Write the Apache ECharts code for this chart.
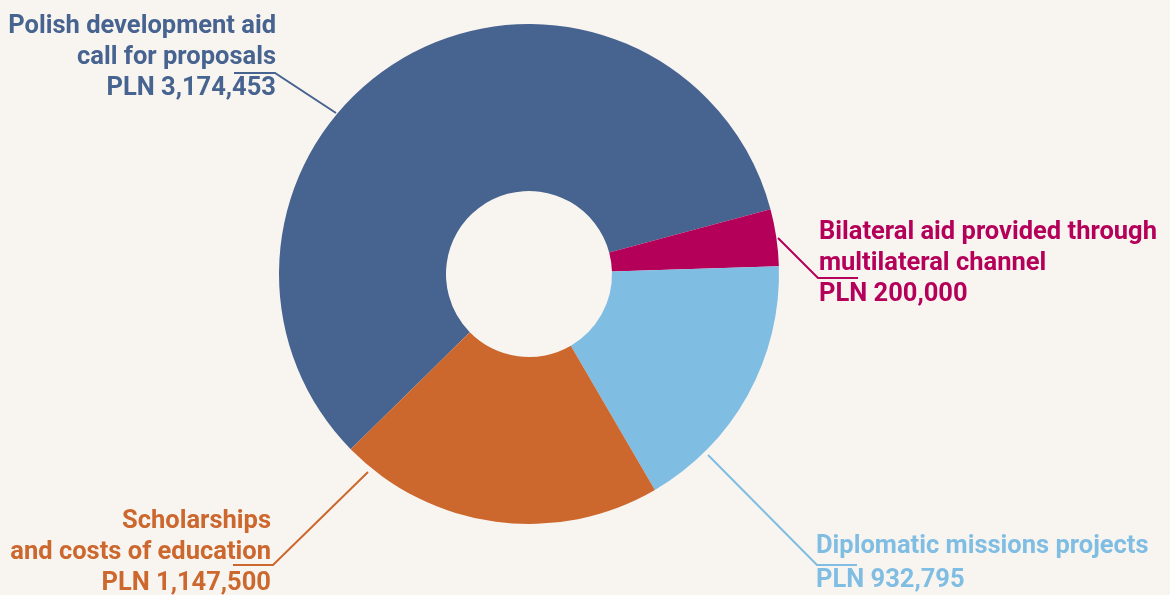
<!DOCTYPE html>
<html>
<head>
<meta charset="utf-8">
<script src="https://cdn.jsdelivr.net/npm/echarts@6/dist/echarts.min.js"></script>
<style>
  html, body { margin: 0; padding: 0; background: #f8f5f1; }
  #chart { width: 1170px; height: 595px; }
</style>
</head>
<body>
<div id="chart"></div>
<script>
// data
var categories = [
  'Polish development aid\ncall for proposals',
  'Bilateral aid provided through\nmultilateral channel',
  'Diplomatic missions projects',
  'Scholarships\nand costs of education'
];
var values = [3174453, 200000, 932795, 1147500];
var colors = ['#47638f', '#b5005a', '#80bde3', '#cc672e'];

// where each label sits and how its leader line runs
var labelPos = [
  { x: 276, y: 11, align: 'right', lh: 31, line: [[336, 113], [275, 73], [234, 73]] },
  { x: 819, y: 217, align: 'left', lh: 31, line: [[778, 238], [818, 278], [858, 278]] },
  { x: 816, y: 530, align: 'left', lh: 34, line: [[708, 455], [817, 565], [857, 565]] },
  { x: 271, y: 506, align: 'right', lh: 31, line: [[368, 472], [273, 565], [233, 565]] }
];

var chartDom = document.getElementById('chart');
var myChart = echarts.init(chartDom);

var data = [];
for (var i = 0; i < values.length; i++) {
  data.push({
    name: categories[i],
    value: values[i],
    itemStyle: { color: colors[i] },
    label: { color: colors[i], lineHeight: labelPos[i].lh, align: labelPos[i].align },
    labelLine: { lineStyle: { color: colors[i] } }
  });
}

var option = {
  backgroundColor: '#f8f5f1',
  animation: false,
  series: [
    {
      type: 'pie',
      center: [529, 274],
      radius: [83, 250],
      startAngle: 224.5,
      clockwise: true,
      avoidLabelOverlap: false,
      data: data,
      label: {
        show: true,
        position: 'outside',
        fontFamily: 'Roboto, "Noto Sans", sans-serif',
        fontWeight: 'bold',
        fontSize: 25.5,
        formatter: function (p) {
          return p.name + '\nPLN ' + p.value.toLocaleString('en-US');
        }
      },
      labelLine: {
        show: true,
        lineStyle: { width: 2 }
      },
      labelLayout: function (params) {
        var lp = labelPos[params.dataIndex];
        return {
          x: lp.x,
          y: lp.y,
          align: lp.align,
          verticalAlign: 'top',
          labelLinePoints: lp.line
        };
      }
    }
  ]
};

option && myChart.setOption(option);
</script>
</body>
</html>
